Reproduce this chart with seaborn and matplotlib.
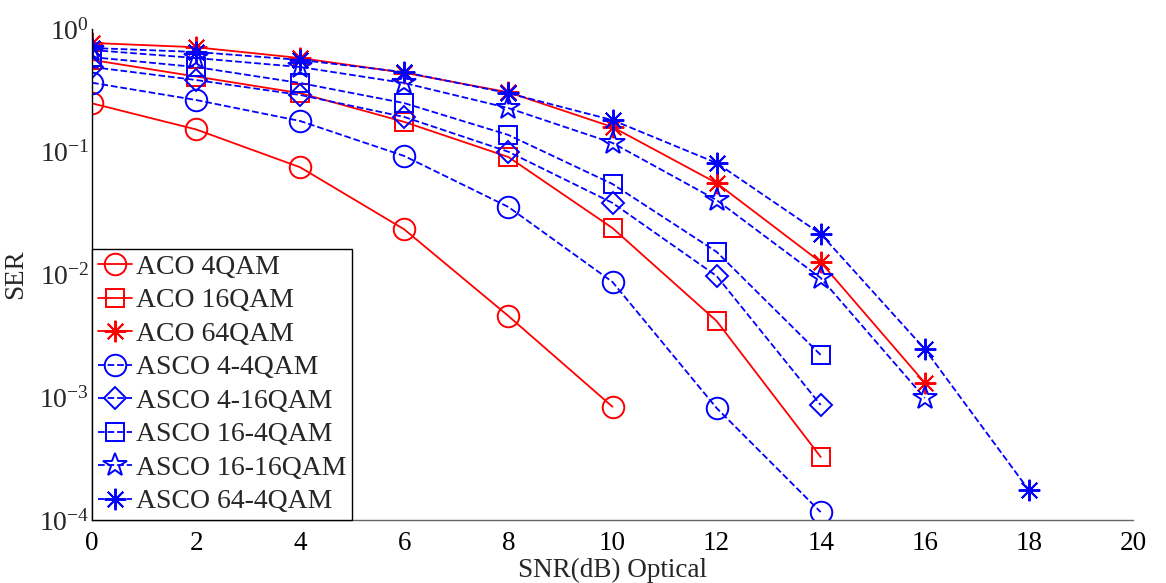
import numpy as np
import pandas as pd
import matplotlib
matplotlib.use("Agg")
import matplotlib.pyplot as plt
import seaborn as sns

# SER versus optical SNR for ACO-OFDM and ASCO-OFDM schemes
snr_db = [0, 2, 4, 6, 8, 10, 12, 14, 16, 18]

aco_4qam = [0.248, 0.152, 0.0747, 0.0233, 0.00459, 0.000837]
aco_16qam = [0.56, 0.41, 0.30, 0.175, 0.0906, 0.0239, 0.00418, 0.000326]
aco_64qam = [0.77, 0.71, 0.58, 0.44, 0.305, 0.159, 0.0556, 0.0126, 0.00131]
asco_4_4qam = [0.365, 0.264, 0.178, 0.0923, 0.0355, 0.00869, 0.000817, 0.000116]
asco_4_16qam = [0.49, 0.384, 0.29, 0.192, 0.100, 0.0383, 0.00973, 0.000865]
asco_16_4qam = [0.59, 0.49, 0.363, 0.249, 0.137, 0.0546, 0.0153, 0.00221]
asco_16_16qam = [0.674, 0.58, 0.49, 0.363, 0.227, 0.118, 0.0404, 0.00937, 0.000986]
asco_64_4qam = [0.70, 0.65, 0.56, 0.445, 0.30, 0.181, 0.081, 0.0214, 0.00247, 0.000175]

labels = ["ACO 4QAM", "ACO 16QAM", "ACO 64QAM", "ASCO 4-4QAM",
          "ASCO 4-16QAM", "ASCO 16-4QAM", "ASCO 16-16QAM", "ASCO 64-4QAM"]
series = [aco_4qam, aco_16qam, aco_64qam, asco_4_4qam,
          asco_4_16qam, asco_16_4qam, asco_16_16qam, asco_64_4qam]

rows = []
for name, vals in zip(labels, series):
    for s, v in zip(snr_db, vals):
        rows.append({"scheme": name, "snr": s, "ser": v})
df = pd.DataFrame(rows)

sns.set_theme(style="white")
plt.rcParams["font.family"] = ["Liberation Serif", "DejaVu Serif"]
plt.rcParams["mathtext.fontset"] = "custom"
plt.rcParams["mathtext.rm"] = "Liberation Serif"
plt.rcParams["mathtext.it"] = "Liberation Serif:italic"
plt.rcParams["mathtext.default"] = "regular"

RED = "#ff0000"
BLUE = "#0000ff"
styles = {
    "ACO 4QAM": dict(color=RED, marker="o", ms=15.5, ls="-"),
    "ACO 16QAM": dict(color=RED, marker="s", ms=13, ls="-"),
    "ACO 64QAM": dict(color=RED, marker=(8, 2, 0), ms=15.5, ls="-"),
    "ASCO 4-4QAM": dict(color=BLUE, marker="o", ms=15.5, ls="--"),
    "ASCO 4-16QAM": dict(color=BLUE, marker="D", ms=11.5, ls="--"),
    "ASCO 16-4QAM": dict(color=BLUE, marker="s", ms=13, ls="--"),
    "ASCO 16-16QAM": dict(color=BLUE, marker="*", ms=17.5, ls="--"),
    "ASCO 64-4QAM": dict(color=BLUE, marker=(8, 2, 0), ms=15.5, ls="--"),
}

fig = plt.figure(figsize=(11.66, 5.83), dpi=100)
ax = fig.add_axes([92 / 1166, 1 - 520 / 583, (1133 - 92) / 1166, (520 - 29) / 583])

for name in labels:
    st = styles[name]
    sub = df[df["scheme"] == name]
    sns.lineplot(data=sub, x="snr", y="ser", ax=ax, color=st["color"],
                 marker=st["marker"], markersize=st["ms"], linestyle=st["ls"],
                 dashes=(4, 2) if st["ls"] == "--" else "",
                 markerfacecolor="none", markeredgecolor=st["color"],
                 markeredgewidth=1.4, linewidth=1.3, label=name)

ax.set_yscale("log")
ax.set_xlim(0, 20)
ax.set_ylim(1e-4, 1)
ax.set_xticks(range(0, 21, 2))
ax.set_yticks([1e-4, 1e-3, 1e-2, 1e-1, 1e0])
ax.yaxis.set_minor_locator(matplotlib.ticker.LogLocator(base=10, subs=np.arange(2, 10)))
ax.yaxis.set_minor_formatter(matplotlib.ticker.NullFormatter())

ax.tick_params(axis="x", which="major", direction="in", length=7, width=0.9,
               color="#555555", labelsize=19.5, pad=8, labelcolor="black")
ax.tick_params(axis="y", which="major", direction="in", length=8, width=0.9,
               color="black", labelsize=20, pad=2)
ax.tick_params(axis="y", which="minor", direction="in", length=5, width=0.8,
               color="black")

for side in ["top", "right"]:
    ax.spines[side].set_visible(False)
ax.spines["left"].set_color("black")
ax.spines["left"].set_linewidth(1.0)
ax.spines["bottom"].set_color("#666666")
ax.spines["bottom"].set_linewidth(1.0)

ax.set_xlabel("SNR(dB) Optical", fontsize=19.5, labelpad=1)
ax.set_ylabel("SER", fontsize=19.5, labelpad=8)
ax.grid(False)

leg = ax.legend(loc="lower left", bbox_to_anchor=(0, 0), borderaxespad=0,
                fontsize=20, frameon=True, fancybox=False, handlelength=1.25,
                handletextpad=0.15, labelspacing=0.29, borderpad=0.2)
leg.get_frame().set_edgecolor("black")
leg.get_frame().set_linewidth(1.0)
leg.get_frame().set_alpha(1)

fig.savefig("out.png", dpi=100)
